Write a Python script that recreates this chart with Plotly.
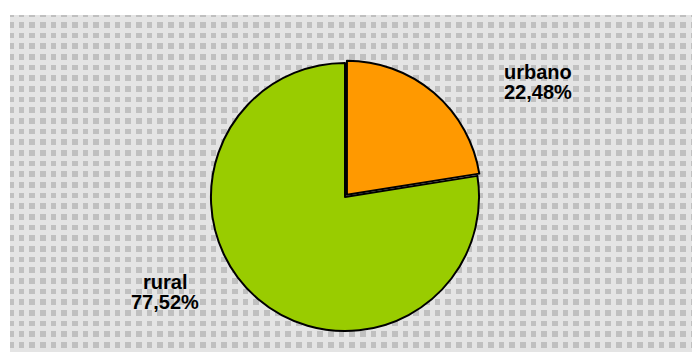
import plotly.graph_objects as go

FONT_FAMILY = "Arial, Liberation Sans, sans-serif"

labels = ["urbano", "rural"]
shares = [22.48, 77.52]
slice_colors = ["#ff9900", "#99cc00"]
# label anchor positions (figure px from top-left) for each slice
label_pos = [(530, 64), (157, 274)]

W, H = 700, 352
CELL = 10.67
LINE_GAP = 20

fig = go.Figure()

# empty cartesian traces so the patterned background (grid) is drawn
fig.add_trace(go.Scatter(x=[None], y=[None], xaxis="x", yaxis="y",
                         showlegend=False, hoverinfo="skip"))
fig.add_trace(go.Scatter(x=[None], y=[None], xaxis="x2", yaxis="y2",
                         showlegend=False, hoverinfo="skip"))

cx, cy, half = 337, H - 189, 137
fig.add_trace(go.Pie(
    labels=labels,
    values=shares,
    sort=False,
    direction="clockwise",
    rotation=0,
    pull=[0.022, 0],
    marker=dict(colors=slice_colors, line=dict(color="#000000", width=2)),
    textinfo="none",
    hoverinfo="label+percent",
    domain=dict(x=[(cx - half) / W, (cx + half) / W],
                y=[(cy - half) / H, (cy + half) / H]),
    showlegend=False,
))

for lab, val, (px_, py_) in zip(labels, shares, label_pos):
    lines = [lab, f"{val:.2f}%".replace(".", ",")]
    for i, line in enumerate(lines):
        fig.add_annotation(
            x=px_ / W, y=(H - py_ - i * LINE_GAP) / H,
            xref="paper", yref="paper", xanchor="center", yanchor="middle",
            text=f"<b>{line}</b>", showarrow=False,
            font=dict(size=20, color="#000000"),
        )

grid_x = dict(range=[2, W], domain=[2 / W, 1], tick0=8, dtick=CELL,
              showticklabels=False, zeroline=False, ticks="", fixedrange=True)
grid_y = dict(range=[H, 7], domain=[0, (H - 7) / H], tick0=11.5, dtick=CELL,
              showticklabels=False, zeroline=False, ticks="", fixedrange=True)

fig.update_layout(
    width=W, height=H,
    margin=dict(l=0, r=0, t=0, b=0),
    paper_bgcolor="#ffffff",
    plot_bgcolor="#c0c0c0",
    font=dict(family=FONT_FAMILY, color="#000000"),
    xaxis=dict(grid_x, showgrid=True, gridcolor="#ffffff", gridwidth=3),
    yaxis=dict(grid_y, showgrid=True, gridcolor="#ffffff", gridwidth=3),
    xaxis2=dict(grid_x, overlaying="x", showgrid=True, gridcolor="#e4e4e4", gridwidth=5),
    yaxis2=dict(grid_y, overlaying="y", showgrid=True, gridcolor="#e4e4e4", gridwidth=5),
)

fig.write_html("out.html")
